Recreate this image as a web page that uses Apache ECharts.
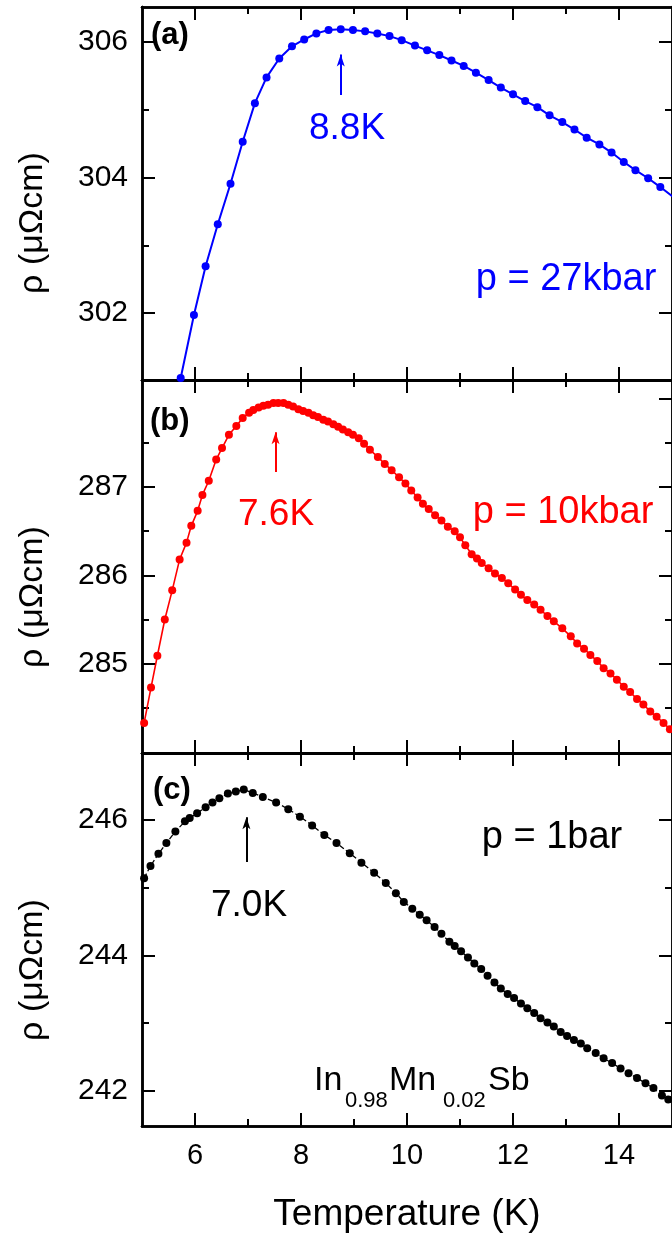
<!DOCTYPE html>
<html>
<head>
<meta charset="utf-8">
<script src="https://cdn.jsdelivr.net/npm/echarts@6/dist/echarts.min.js"></script>
<style>
  html, body { margin: 0; padding: 0; background: #fff; }
  #chart { width: 672px; height: 1235px; }
</style>
</head>
<body>
<div id="chart"></div>
<script>
// temperature axis (shared by the three panels)
const tempMin = 5;
const tempMax = 15;
const tempTicks = [6, 8, 10, 12, 14];
const tempMinor = [7, 9, 11, 13];

// rho axes, one per panel
const rhoRangeA = [301.01, 306.52];
const rhoTicksA = [302, 304, 306];
const rhoMinorA = [303, 305];
const rhoRangeB = [283.99, 288.21];
const rhoTicksB = [285, 286, 287];
const rhoTicksBRight = [285, 286, 287, 288];
const rhoMinorB = [284.5, 285.5, 286.5, 287.5];
const rhoRangeC = [241.48, 246.99];
const rhoTicksC = [242, 244, 246];
const rhoMinorC = [243, 245];

// (a) p = 27kbar  [T (K), rho (µΩcm)]
const panelA = [
  [5.73, 301.04], [5.98, 301.97], [6.20, 302.69], [6.43, 303.31], [6.67, 303.91],
  [6.90, 304.53], [7.13, 305.10], [7.35, 305.48], [7.59, 305.76], [7.83, 305.94],
  [8.06, 306.04], [8.29, 306.13], [8.52, 306.18], [8.75, 306.19], [8.98, 306.18],
  [9.21, 306.16], [9.44, 306.13], [9.67, 306.09], [9.90, 306.03], [10.15, 305.95],
  [10.38, 305.88], [10.61, 305.81], [10.84, 305.73], [11.07, 305.65], [11.30, 305.55],
  [11.54, 305.44], [11.77, 305.33], [12.00, 305.23], [12.23, 305.13], [12.46, 305.04],
  [12.69, 304.92], [12.93, 304.82], [13.16, 304.71], [13.39, 304.59], [13.63, 304.49],
  [13.86, 304.37], [14.09, 304.23], [14.31, 304.11], [14.55, 303.99], [14.78, 303.86],
  [15.01, 303.72]
];

// (b) p = 10kbar
const panelB = [
  [5.04, 284.33], [5.17, 284.73], [5.29, 285.09], [5.43, 285.50], [5.57, 285.83],
  [5.71, 286.18], [5.84, 286.37], [5.93, 286.56], [6.05, 286.73], [6.14, 286.91],
  [6.26, 287.07], [6.40, 287.31], [6.51, 287.44], [6.64, 287.59], [6.78, 287.69],
  [6.90, 287.78], [7.02, 287.84], [7.10, 287.87], [7.20, 287.90], [7.29, 287.92],
  [7.38, 287.93], [7.48, 287.95], [7.57, 287.95], [7.67, 287.95], [7.76, 287.93],
  [7.85, 287.91], [7.95, 287.88], [8.04, 287.86], [8.14, 287.84], [8.23, 287.81],
  [8.32, 287.79], [8.42, 287.76], [8.51, 287.74], [8.61, 287.71], [8.70, 287.68],
  [8.79, 287.65], [8.89, 287.62], [8.98, 287.59], [9.09, 287.55], [9.19, 287.49],
  [9.30, 287.42], [9.45, 287.34], [9.58, 287.26], [9.71, 287.19], [9.85, 287.11],
  [9.97, 287.04], [10.08, 286.96], [10.20, 286.88], [10.30, 286.81], [10.41, 286.75],
  [10.53, 286.68], [10.65, 286.62], [10.77, 286.55], [10.90, 286.50], [11.00, 286.43],
  [11.10, 286.34], [11.22, 286.24], [11.32, 286.19], [11.41, 286.14], [11.54, 286.08],
  [11.66, 286.02], [11.79, 285.97], [11.91, 285.91], [12.04, 285.84], [12.15, 285.78],
  [12.27, 285.72], [12.40, 285.67], [12.52, 285.61], [12.65, 285.54], [12.77, 285.48],
  [12.93, 285.40], [13.09, 285.31], [13.21, 285.23], [13.34, 285.17], [13.46, 285.10],
  [13.59, 285.03], [13.71, 284.95], [13.84, 284.89], [13.96, 284.82], [14.09, 284.74],
  [14.21, 284.68], [14.34, 284.60], [14.46, 284.54], [14.59, 284.46], [14.71, 284.40],
  [14.84, 284.33], [14.96, 284.26]
];

// (c) p = 1bar
const panelC = [
  [5.04, 245.14], [5.16, 245.32], [5.31, 245.50], [5.46, 245.66], [5.63, 245.83],
  [5.81, 245.98], [5.90, 246.03], [6.04, 246.10], [6.20, 246.19], [6.33, 246.26],
  [6.46, 246.32], [6.62, 246.39], [6.77, 246.42], [6.92, 246.45], [7.09, 246.40],
  [7.28, 246.34], [7.53, 246.26], [7.76, 246.16], [7.98, 246.05], [8.21, 245.92],
  [8.44, 245.78], [8.67, 245.66], [8.92, 245.51], [9.14, 245.37], [9.38, 245.22],
  [9.60, 245.07], [9.79, 244.92], [9.94, 244.79], [10.10, 244.69], [10.24, 244.60],
  [10.37, 244.52], [10.52, 244.42], [10.65, 244.32], [10.80, 244.20], [10.90, 244.14],
  [11.02, 244.06], [11.15, 243.97], [11.27, 243.88], [11.40, 243.80], [11.52, 243.70],
  [11.65, 243.60], [11.77, 243.51], [11.90, 243.43], [12.02, 243.37], [12.15, 243.29],
  [12.27, 243.22], [12.40, 243.15], [12.52, 243.07], [12.65, 243.01], [12.77, 242.95],
  [12.90, 242.87], [13.02, 242.81], [13.15, 242.75], [13.28, 242.70], [13.40, 242.63],
  [13.56, 242.56], [13.71, 242.48], [13.87, 242.41], [14.03, 242.33], [14.18, 242.26],
  [14.34, 242.19], [14.50, 242.11], [14.65, 242.04], [14.81, 241.93], [14.93, 241.87]
];

// arrows marking the maxima: [T, tail rho, head rho]
const arrowA = [8.75, 305.22, 305.82];
const arrowB = [7.52, 287.17, 287.62];
const arrowC = [6.97, 245.38, 246.04];

const FONT = '"Liberation Sans", Arial, sans-serif';
const BLUE = '#0000ff';
const RED = '#ff0000';
const BLACK = '#000000';

const gridTops = [7, 380, 753];
const grids = gridTops.map((top) => ({ left: 142, right: -2, top: top, height: 373 }));

function xAxis(g, position, values, len, withLabels, extra) {
  return Object.assign({
    type: 'value',
    gridIndex: g,
    position: position,
    min: tempMin,
    max: tempMax,
    axisLine: { show: true, onZero: false, lineStyle: { color: '#000', width: 2.5 } },
    axisTick: { show: true, inside: true, length: len, customValues: values,
      lineStyle: { color: '#000', width: 2 } },
    axisLabel: withLabels
      ? { show: true, customValues: values, color: '#000', fontSize: 29, fontFamily: FONT, margin: 15 }
      : { show: false },
    splitLine: { show: false },
  }, extra || {});
}

function yAxis(g, position, range, values, len, withLabels) {
  return {
    type: 'value',
    gridIndex: g,
    position: position,
    min: range[0],
    max: range[1],
    axisLine: { show: true, onZero: false, lineStyle: { color: '#000', width: 2.5 } },
    axisTick: { show: true, inside: true, length: len, customValues: values,
      lineStyle: { color: '#000', width: 2 } },
    axisLabel: withLabels
      ? { show: true, customValues: values, color: '#000', fontSize: 30, fontFamily: FONT, margin: 14 }
      : { show: false },
    splitLine: { show: false },
  };
}

const xAxes = [];
const yAxes = [];
const yRanges = [rhoRangeA, rhoRangeB, rhoRangeC];
const yMajor = [rhoTicksA, rhoTicksB, rhoTicksC];
const yMajorRight = [rhoTicksA, rhoTicksBRight, rhoTicksC];
const yMinor = [rhoMinorA, rhoMinorB, rhoMinorC];

for (let g = 0; g < 3; g++) {
  const last = g === 2;
  xAxes.push(xAxis(g, 'bottom', tempTicks, 13, last, last ? {
    name: 'Temperature (K)',
    nameLocation: 'middle',
    nameGap: 70,
    nameTextStyle: { color: '#000', fontSize: 37, fontFamily: FONT },
  } : null));
  xAxes.push(xAxis(g, 'bottom', tempMinor, 7, false));
  xAxes.push(xAxis(g, 'top', tempTicks, 13, false));
  xAxes.push(xAxis(g, 'top', tempMinor, 7, false));

  yAxes.push(yAxis(g, 'left', yRanges[g], yMajor[g], 13, true));
  yAxes.push(yAxis(g, 'left', yRanges[g], yMinor[g], 7, false));
  yAxes.push(yAxis(g, 'right', yRanges[g], yMajorRight[g], 13, false));
  yAxes.push(yAxis(g, 'right', yRanges[g], yMinor[g], 7, false));
}

function curve(g, data, color, lineWidth, lineType, arrow) {
  return {
    type: 'line',
    xAxisIndex: 4 * g,
    yAxisIndex: 4 * g,
    data: data,
    symbol: 'circle',
    symbolSize: 8,
    showSymbol: true,
    itemStyle: { color: color },
    lineStyle: { color: color, width: lineWidth, type: lineType },
    animation: false,
    silent: true,
    markLine: {
      silent: true,
      animation: false,
      symbol: ['none', 'arrow'],
      symbolSize: [6, 12],
      label: { show: false },
      lineStyle: { color: color, width: 2, type: 'solid' },
      data: [[{ coord: [arrow[0], arrow[1]] }, { coord: [arrow[0], arrow[2]] }]],
    },
  };
}

function label(text, x, y, color, size, weight, align) {
  return {
    type: 'text',
    x: x,
    y: y,
    silent: true,
    style: {
      text: text,
      fill: color,
      font: (weight || 'normal') + ' ' + size + 'px ' + FONT,
      align: align || 'center',
      textAlign: align || 'center',
      verticalAlign: 'middle',
      textVerticalAlign: 'middle',
    },
  };
}

function yName(y) {
  const t = label('ρ (μΩcm)', 33, y, '#000', 34);
  t.rotation = Math.PI / 2;
  return t;
}

const graphics = [
  yName(223), yName(597), yName(970),
  label('(a)', 151, 35, '#000', 31, 'bold', 'left'),
  label('(b)', 150, 421, '#000', 31, 'bold', 'left'),
  label('(c)', 153, 790, '#000', 31, 'bold', 'left'),
  label('8.8K', 347, 129, BLUE, 37),
  label('7.6K', 276, 515, RED, 37),
  label('7.0K', 249, 906, BLACK, 37),
  label('p = 27kbar', 566, 280, BLUE, 38),
  label('p = 10kbar', 563, 513, RED, 38),
  label('p = 1bar', 552, 838, BLACK, 38),
  // In0.98Mn0.02Sb
  label('In', 314, 1081, '#000', 34, 'normal', 'left'),
  label('0.98', 345, 1101, '#000', 22, 'normal', 'left'),
  label('Mn', 389, 1081, '#000', 34, 'normal', 'left'),
  label('0.02', 443, 1101, '#000', 22, 'normal', 'left'),
  label('Sb', 488, 1081, '#000', 34, 'normal', 'left'),
];

const chart = echarts.init(document.getElementById('chart'), null, { renderer: 'canvas' });
chart.setOption({
  backgroundColor: '#fff',
  animation: false,
  grid: grids,
  xAxis: xAxes,
  yAxis: yAxes,
  series: [
    curve(0, panelA, BLUE, 2, 'solid', arrowA),
    curve(1, panelB, RED, 1.6, 'solid', arrowB),
    curve(2, panelC, BLACK, 1.3, 'dashed', arrowC),
  ],
  graphic: graphics,
});
</script>
</body>
</html>
